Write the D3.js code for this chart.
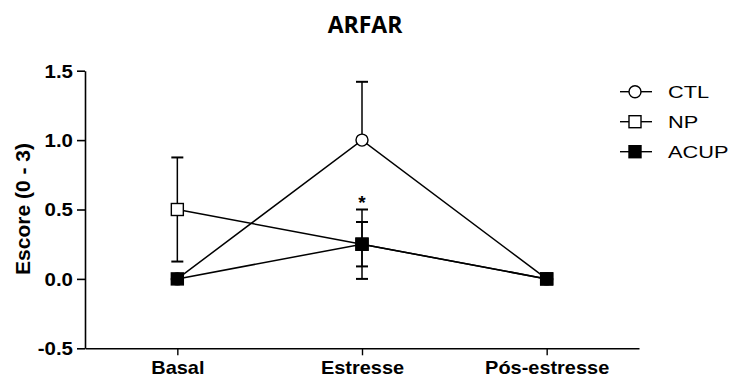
<!DOCTYPE html>
<meta charset="utf-8">
<script src="https://d3js.org/d3.v7.min.js"></script>
<style>
  body { margin: 0; background: #fff; }
  text { font-family: Arial, "Liberation Sans", sans-serif; fill: #000; }
</style>
<div id="chart"></div>
<script>
// data
var groups = ["Basal", "Estresse", "Pós-estresse"];
var yTicks = [-0.5, 0.0, 0.5, 1.0, 1.5];
var ctl = [0, 1.0, 0];
var ctlErr = [0, 0.42, 0];
var np = [0.5, 0.25, 0];
var npErr = [0.375, 0.25, 0];
var acup = [0, 0.25, 0];
var acupErr = [0, 0.16, 0];

var series = [
  {name: "CTL", vals: ctl, err: ctlErr, shape: "circle", fill: "#fff", both: false},
  {name: "NP", vals: np, err: npErr, shape: "square", fill: "#fff", both: true},
  {name: "ACUP", vals: acup, err: acupErr, shape: "square", fill: "#000", both: true}
];

var svg = d3.select("#chart").append("svg")
  .attr("width", 730).attr("height", 378);

var x = d3.scalePoint().domain(groups).range([85, 639]).padding(0.5);
var y = d3.scaleLinear().domain([-0.5, 1.5]).range([348.3, 70.7]);

// title
svg.append("text")
  .attr("x", 365).attr("y", 33)
  .attr("text-anchor", "middle")
  .style("font-family", "'Open Sans', sans-serif")
  .style("font-weight", "bold").style("font-size", "23px")
  .text("ARFAR");

// y axis
var yAx = svg.append("g")
  .attr("transform", "translate(85,0)")
  .call(d3.axisLeft(y).tickValues(yTicks)
    .tickFormat(function(d) { return d.toFixed(1); })
    .tickSize(8).tickSizeOuter(0));
yAx.select(".domain").attr("stroke-width", 1.6);
yAx.selectAll(".tick line").attr("stroke-width", 1.6);
yAx.selectAll(".tick text")
  .attr("x", 0).attr("dy", "0.36em")
  .attr("transform", "translate(-12,0) scale(1.17,1)")
  .style("font-size", "17.5px").style("font-weight", "bold")
  .style("font-family", "Arial, 'Liberation Sans', sans-serif");

// x axis
var xAx = svg.append("g")
  .attr("transform", "translate(0,348.3)")
  .call(d3.axisBottom(x).tickSize(7).tickSizeOuter(0));
xAx.select(".domain").attr("stroke-width", 1.6);
xAx.selectAll(".tick line").attr("stroke-width", 1.4);
xAx.selectAll(".tick text")
  .attr("y", 25.5).attr("dy", 0)
  .attr("transform", "scale(1.14,1)")
  .style("font-size", "17.5px").style("font-weight", "bold")
  .style("font-family", "Arial, 'Liberation Sans', sans-serif");

// y title
svg.append("text")
  .attr("transform", "translate(30,209) rotate(-90)")
  .attr("text-anchor", "middle")
  .style("font-size", "21px").style("font-weight", "bold")
  .text("Escore (0 - 3)");

// error bars
series.forEach(function(s) {
  s.vals.forEach(function(v, i) {
    if (!s.err[i]) return;
    var cx = x(groups[i]);
    var lo = s.both ? v - s.err[i] : v;
    var hi = v + s.err[i];
    svg.append("line")
      .attr("x1", cx).attr("x2", cx).attr("y1", y(lo)).attr("y2", y(hi))
      .attr("stroke", "#000").attr("stroke-width", 1.5);
    [hi].concat(s.both ? [lo] : []).forEach(function(e) {
      svg.append("line")
        .attr("x1", cx - 6).attr("x2", cx + 6).attr("y1", y(e)).attr("y2", y(e))
        .attr("stroke", "#000").attr("stroke-width", 2);
    });
  });
});

// lines
var line = d3.line().x(function(d, i) { return x(groups[i]); }).y(function(d) { return y(d); });
series.forEach(function(s) {
  svg.append("path").datum(s.vals)
    .attr("d", line).attr("fill", "none")
    .attr("stroke", "#000").attr("stroke-width", 1.5);
});

function marker(g, s, cx, cy) {
  if (s.shape === "circle") {
    g.append("circle").attr("cx", cx).attr("cy", cy).attr("r", 6)
      .attr("fill", s.fill).attr("stroke", "#000").attr("stroke-width", 1.4);
  } else {
    g.append("rect").attr("x", cx - 6).attr("y", cy - 6).attr("width", 12).attr("height", 12)
      .attr("fill", s.fill).attr("stroke", "#000").attr("stroke-width", 1.4);
  }
}

// markers
series.forEach(function(s) {
  s.vals.forEach(function(v, i) { marker(svg, s, x(groups[i]), y(v)); });
});

// significance star
svg.append("text")
  .attr("x", x("Estresse")).attr("y", y(0.5) - 1)
  .attr("text-anchor", "middle")
  .style("font-size", "19px").style("font-weight", "bold")
  .text("*");

// legend
var leg = svg.append("g");
series.forEach(function(s, i) {
  var ly = 91.7 + i * 30;
  leg.append("line").attr("x1", 620).attr("x2", 652).attr("y1", ly).attr("y2", ly)
    .attr("stroke", "#000").attr("stroke-width", 1.4);
  marker(leg, s, 635, ly);
  leg.append("text").attr("x", 0).attr("y", ly).attr("dy", "0.36em")
    .attr("transform", "translate(668,0) scale(1.28,1)")
    .style("font-size", "17px")
    .text(s.name);
});
</script>
